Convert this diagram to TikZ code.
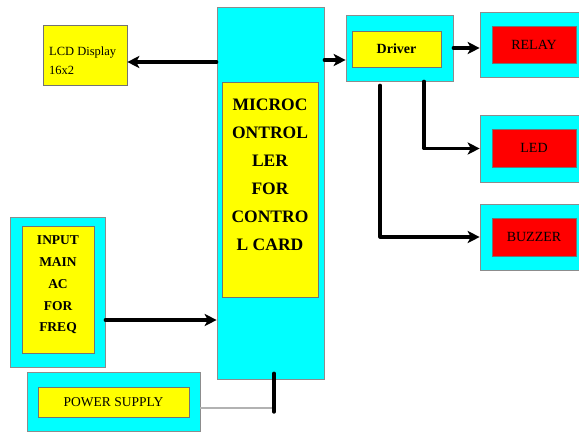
\documentclass[tikz,border=0pt]{standalone}
\usepackage{fontspec}
\setmainfont{Liberation Serif}
\usetikzlibrary{arrows.meta}
\definecolor{cy}{HTML}{00FFFF}
\definecolor{ye}{HTML}{FFFF00}
\definecolor{re}{HTML}{FF0000}
\tikzset{
  outerbox/.style={draw=black!45, line width=0.6pt, fill=cy, inner sep=0pt},
  yellowbox/.style={draw=black!55, line width=0.6pt, fill=ye, inner sep=0pt},
  redbox/.style={draw=black!55, line width=0.6pt, fill=re, inner sep=0pt},
  txt/.style={inner sep=0pt, align=center},
  arr/.style={line width=3.2pt, -{Stealth[length=12pt,width=12pt,inset=3pt]}, line cap=round, line join=round},
  plainline/.style={line width=3.4pt, line cap=round, line join=round},
}
\begin{document}
\begin{tikzpicture}[x=1pt,y=-1pt]
\useasboundingbox (0,0) rectangle (579,432);
\fill[white] (0,0) rectangle (579,432);
% LCD
\node[yellowbox, minimum width=84pt, minimum height=60pt] (lcd) at (85,55) {};
\node[txt, align=left, font=\fontsize{12.5}{19}\selectfont, anchor=west] (lcdt) at (49,61) {LCD Display\\16x2};
% Micro
\node[outerbox, minimum width=107pt, minimum height=372pt] (micro) at (270.5,193) {};
\node[yellowbox, minimum width=96pt, minimum height=215pt] (microin) at (270,189.5) {};
\node[txt, font=\fontsize{17.5}{28}\selectfont\bfseries] (microt) at (270,175) {MICROC\\ONTROL\\LER\\FOR\\CONTRO\\L CARD};
% Driver
\node[outerbox, minimum width=107pt, minimum height=66pt] (driver) at (399.5,48) {};
\node[yellowbox, minimum width=89pt, minimum height=36pt, font=\fontsize{14}{16}\selectfont\bfseries] (driverin) at (396.5,49) {Driver};
% Relay
\node[outerbox, minimum width=102pt, minimum height=65pt] (relay) at (531,44.5) {};
\node[redbox, minimum width=84pt, minimum height=37pt, font=\fontsize{14}{16}\selectfont] (relayin) at (534,44.5) {RELAY};
% LED
\node[outerbox, minimum width=102pt, minimum height=67pt] (led) at (531,148.5) {};
\node[redbox, minimum width=84pt, minimum height=38pt, font=\fontsize{14}{16}\selectfont] (ledin) at (534,148) {LED};
% Buzzer
\node[outerbox, minimum width=102pt, minimum height=66pt] (buzzer) at (531,237) {};
\node[redbox, minimum width=84pt, minimum height=38pt, font=\fontsize{14}{16}\selectfont] (buzzerin) at (534,237) {BUZZER};
% Input
\node[outerbox, minimum width=95pt, minimum height=150pt] (input) at (57.5,292) {};
\node[yellowbox, minimum width=72pt, minimum height=127pt] (inputin) at (58,289.5) {};
\node[txt, font=\fontsize{13.5}{21.8}\selectfont\bfseries] (inputt) at (58,285) {INPUT\\MAIN\\AC\\FOR\\FREQ};
% Power
\node[outerbox, minimum width=173pt, minimum height=59pt] (power) at (113.5,401.5) {};
\node[yellowbox, minimum width=151pt, minimum height=30pt, font=\fontsize{13.5}{16}\selectfont] (powerin) at (113.5,402) {POWER SUPPLY};
% helper coordinates
\coordinate (ylcd) at (0,62);
\coordinate (ydrv) at (0,60);
\coordinate (xled) at (424,0);
\coordinate (xbuz) at (380,0);
\coordinate (yin) at (0,320);
\coordinate (xpw) at (274,0);
\coordinate (ypw) at (0,408);
% connectors
\draw[arr] (micro.west |- ylcd) -- (lcd.east |- ylcd);
\draw[arr] (micro.east |- ydrv) -- (driver.west |- ydrv);
\draw[arr] (driver.east) -- (relay.west |- driver.east);
\draw[arr] (driver.south -| xled) |- (led.west);
\draw[arr] ([yshift=-4pt]driver.south -| xbuz) |- (buzzer.west);
\draw[arr] (input.east |- yin) -- (micro.west |- yin);
\draw[line width=2.2pt, black!30] (power.east |- ypw) -- (xpw |- ypw);
\draw[plainline] ([yshift=-4pt]xpw |- ypw) -- ([yshift=6pt]micro.south -| xpw);
\end{tikzpicture}
\end{document}
